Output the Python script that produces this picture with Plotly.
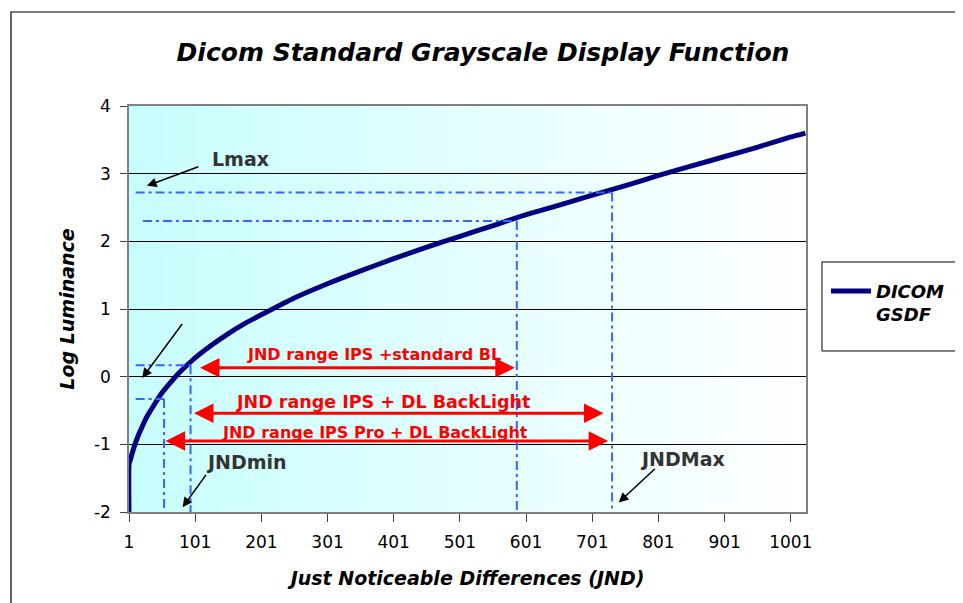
import plotly.graph_objects as go

# ---------------- data ----------------
jnd = [1, 1, 2, 3, 5, 8, 10, 15, 20, 25, 30, 40, 50, 60, 75, 85, 100, 125, 150,
       175, 200, 250, 300, 350, 400, 450, 500, 550, 600, 650, 700, 750, 800,
       850, 900, 950, 1000, 1023]
log_lum = [-2.05, -1.30, -1.26, -1.23, -1.16, -1.06, -1.00, -0.87, -0.76, -0.65,
           -0.56, -0.40, -0.25, -0.13, 0.04, 0.135, 0.27, 0.46, 0.63, 0.78, 0.91,
           1.16, 1.37, 1.56, 1.74, 1.91, 2.07, 2.23, 2.39, 2.53, 2.68, 2.82, 2.97,
           3.11, 3.25, 3.39, 3.54, 3.60]

x_ticks = [1, 101, 201, 301, 401, 501, 601, 701, 801, 901, 1001]
y_ticks = [-2, -1, 0, 1, 2, 3, 4]

# reference (dash-dot) levels and JND points
ref_levels = [2.72, 2.30, 0.17, -0.33]
ref_jnd = [731, 587, 94, 54]
ref_start = [11, 22, 11, 11]

# JND range arrows
range_labels = ["JND range IPS +standard BL", "JND range IPS + DL BackLight",
                "JND range IPS Pro + DL BackLight"]
range_from = [106, 97, 54]
range_to = [584, 718, 725]
range_level = [0.13, -0.54, -0.95]

# callouts
callout_text = ["Lmax", "", "JNDmin", "JNDMax"]
callout_tip_x = [28, 21, 82, 741]
callout_tip_y = [2.82, -0.02, -1.93, -1.86]
callout_tail_x = [108, 83, 119, 798]
callout_tail_y = [3.11, 0.80, -1.43, -1.34]

# ---------------- layout helpers ----------------
FONT = "DejaVu Sans, Verdana, sans-serif"
range_label_x = [371, 385, 372]
range_label_y = [0.33, -0.38, -0.82]
range_label_size = [16, 17.5, 16]
callout_label_x = [170, 0, 179, 837]
callout_label_y = [3.21, 0, -1.26, -1.21]

fig = go.Figure()
fig.add_trace(go.Scatter(
    x=jnd, y=log_lum, mode="lines", name="<b><i>DICOM<br>GSDF</i></b>",
    line=dict(color="#000080", width=5, shape="spline", smoothing=0.6),
))

shapes = []
# gradient background in strips
N = 80
c0 = (200, 254, 254)
c1 = (255, 255, 255)
for i in range(N):
    t = (i + 0.5) / N
    col = tuple(int(round(c0[k] + (c1[k] - c0[k]) * t)) for k in range(3))
    shapes.append(dict(type="rect", xref="x domain", yref="y domain",
                       x0=i / N, x1=(i + 1) / N + 0.002, y0=0, y1=1,
                       fillcolor="rgb(%d,%d,%d)" % col, line=dict(width=0),
                       layer="below"))

dash = "9px,4px,3px,4px"
for lvl, j, s in zip(ref_levels, ref_jnd, ref_start):
    shapes.append(dict(type="line", xref="x", yref="y", x0=s, x1=j, y0=lvl, y1=lvl,
                       line=dict(color="#3366FF", width=2, dash=dash)))
    shapes.append(dict(type="line", xref="x", yref="y", x0=j, x1=j, y0=lvl, y1=-2.1,
                       line=dict(color="#3366FF", width=2, dash=dash)))

# outer chart border
shapes.append(dict(type="rect", xref="paper", yref="paper",
                   x0=-0.1743, x1=1.26, y0=-0.26, y1=1.2315,
                   line=dict(color="black", width=1.2), fillcolor="rgba(0,0,0,0)"))
# legend frame
shapes.append(dict(type="rect", xref="paper", yref="paper",
                   x0=1.0236, x1=1.2216, y0=0.3966, y1=0.6158,
                   line=dict(color="black", width=1), fillcolor="white"))

annotations = []
for lab, a, b, lvl, lx, ly, fs in zip(range_labels, range_from, range_to, range_level,
                                      range_label_x, range_label_y, range_label_size):
    annotations.append(dict(x=b, y=lvl, ax=a, ay=lvl, xref="x", yref="y",
                            axref="x", ayref="y", text="", showarrow=True,
                            arrowhead=2, arrowsize=1.3, arrowwidth=3, arrowcolor="#FF0000",
                            arrowside="end+start", startarrowhead=2, startarrowsize=1.3,
                            standoff=0, startstandoff=0))
    annotations.append(dict(x=lx, y=ly, xref="x", yref="y", text="<b>%s</b>" % lab,
                            showarrow=False, font=dict(family=FONT, size=fs, color="#FF0000")))

for t, tx, ty, ax, ay, lx, ly in zip(callout_text, callout_tip_x, callout_tip_y,
                                     callout_tail_x, callout_tail_y,
                                     callout_label_x, callout_label_y):
    annotations.append(dict(x=tx, y=ty, ax=ax, ay=ay, xref="x", yref="y",
                            axref="x", ayref="y", text="", showarrow=True,
                            arrowhead=2, arrowsize=1.3, arrowwidth=1.5, arrowcolor="black",
                            standoff=0))
    if t:
        annotations.append(dict(x=lx, y=ly, xref="x", yref="y", text="<b>%s</b>" % t,
                                showarrow=False,
                                font=dict(family=FONT, size=19, color="#333333")))

# figure is placed 8px from the page corner by the page's body margin
fig.update_layout(
    width=955, height=595,
    margin=dict(l=121, r=157, t=98, b=91),
    paper_bgcolor="white",
    plot_bgcolor="white",
    font=dict(family=FONT, size=17, color="black"),
    title=dict(text="<b><i>Dicom Standard Grayscale Display Function</i></b>",
               x=475 / 955, xanchor="center", y=1 - 44 / 595, yanchor="middle",
               font=dict(family=FONT, size=25, color="black")),
    xaxis=dict(range=[1, 1024], tickvals=x_ticks, ticktext=[str(v) for v in x_ticks],
               showgrid=False, zeroline=False, showline=True, linecolor="#808080",
               linewidth=1.5, mirror=True, ticks="outside", ticklen=8, tickcolor="#404040",
               ticklabelstandoff=6,
               tickfont=dict(family=FONT, size=17, color="black"),
               title=dict(text="<b><i>Just Noticeable Differences (JND)</i></b>",
                          font=dict(family=FONT, size=19, color="black"), standoff=21)),
    yaxis=dict(range=[-2, 4], tickvals=y_ticks, ticktext=[str(v) for v in y_ticks],
               showgrid=True, gridcolor="black",
               gridwidth=1, zeroline=True, zerolinecolor="black", zerolinewidth=1,
               showline=True, linecolor="#808080", linewidth=1.5, mirror=True,
               ticks="outside", ticklen=7, tickcolor="#404040",
               ticklabelstandoff=6,
               tickfont=dict(family=FONT, size=17, color="black"),
               title=dict(text="<b><i>Log Luminance</i></b>",
                          font=dict(family=FONT, size=19, color="black"), standoff=14)),
    showlegend=True,
    legend=dict(x=1.0295, y=0.589, xanchor="left", yanchor="top",
                borderwidth=0, bgcolor="rgba(0,0,0,0)", valign="top",
                font=dict(family=FONT, size=18, color="black"),
                itemwidth=40),
    shapes=shapes,
    annotations=annotations,
)

fig.write_html("out.html")
